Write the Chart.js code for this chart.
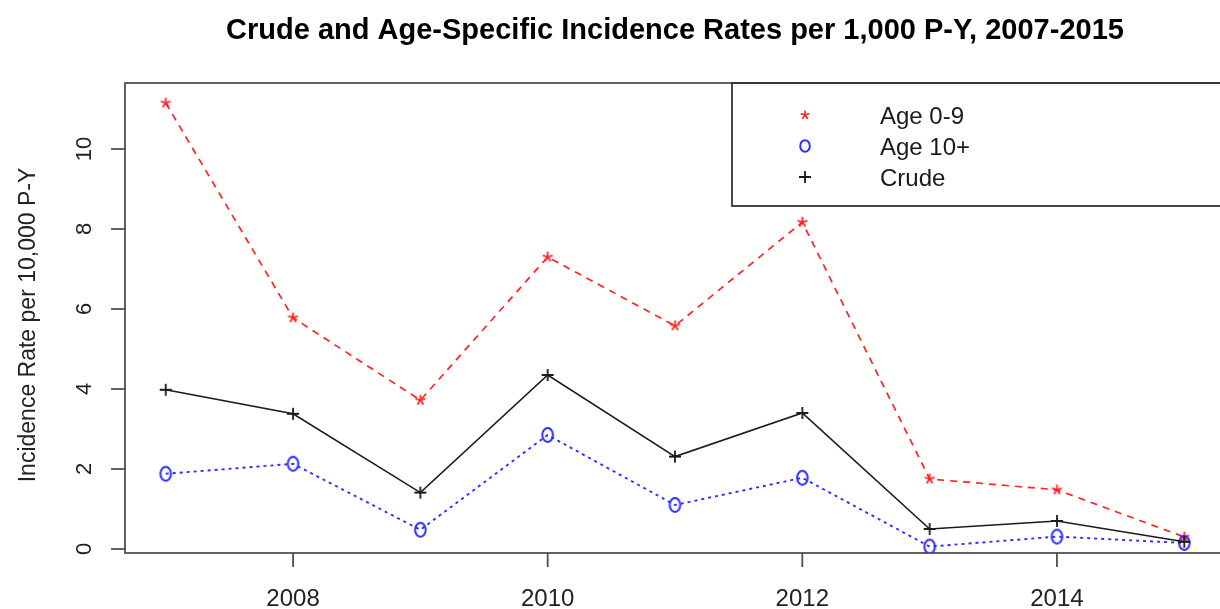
<!DOCTYPE html>
<html>
<head>
<meta charset="utf-8">
<script src="https://cdn.jsdelivr.net/npm/chart.js@4/dist/chart.umd.min.js"></script>
<style>
  html, body { margin: 0; padding: 0; background: #fff; overflow: hidden; }
  #wrap { width: 1350px; height: 609px; }
</style>
</head>
<body>
<div id="wrap"><canvas id="c" width="1350" height="609"></canvas></div>
<script>
// Incidence rates per 10,000 person-years by year
const years      = [2007, 2008, 2009, 2010, 2011, 2012, 2013, 2014, 2015];
const age0to9    = [11.15, 5.78, 3.72, 7.30, 5.58, 8.17, 1.75, 1.48, 0.30];
const age10plus  = [1.88, 2.13, 0.48, 2.85, 1.10, 1.78, 0.06, 0.31, 0.15];
const crude      = [3.98, 3.38, 1.41, 4.35, 2.31, 3.40, 0.50, 0.70, 0.18];

const xTicks = [2008, 2010, 2012, 2014];
const yTicks = [0, 2, 4, 6, 8, 10];
const seriesNames = ['Age 0-9', 'Age 10+', 'Crude'];
const titleText = 'Crude and Age-Specific Incidence Rates per 1,000 P-Y, 2007-2015';
const yTitleText = 'Incidence Rate per 10,000 P-Y';

const RED = 'rgb(255,35,35)';
const BLUE = 'rgb(45,45,255)';
const BLACK = '#1a1a1a';
const FRAME = '#505050';
const FONT = '"Liberation Sans", Arial, sans-serif';

// Marker glyphs drawn on small offscreen canvases
function starMarker(color, r, lw) {
  const s = Math.ceil(2 * r + 4), c = document.createElement('canvas');
  c.width = s; c.height = s;
  const g = c.getContext('2d');
  g.strokeStyle = color; g.lineWidth = lw; g.lineCap = 'round';
  for (let k = 0; k < 5; k++) {
    const a = -Math.PI / 2 + k * 2 * Math.PI / 5;
    g.beginPath(); g.moveTo(s / 2, s / 2);
    g.lineTo(s / 2 + r * Math.cos(a), s / 2 + r * Math.sin(a)); g.stroke();
  }
  return c;
}
function ovalMarker(color, rx, ry, lw) {
  const w = Math.ceil(2 * rx + 4), h = Math.ceil(2 * ry + 4), c = document.createElement('canvas');
  c.width = w; c.height = h;
  const g = c.getContext('2d');
  g.strokeStyle = color; g.lineWidth = lw;
  g.beginPath(); g.ellipse(w / 2, h / 2, rx, ry, 0, 0, Math.PI * 2); g.stroke();
  return c;
}
function plusMarker(color, r, lw) {
  const s = Math.ceil(2 * r + 4), c = document.createElement('canvas');
  c.width = s; c.height = s;
  const g = c.getContext('2d');
  g.strokeStyle = color; g.lineWidth = lw;
  g.beginPath();
  g.moveTo(s / 2 - r, s / 2); g.lineTo(s / 2 + r, s / 2);
  g.moveTo(s / 2, s / 2 - r); g.lineTo(s / 2, s / 2 + r);
  g.stroke();
  return c;
}

const starPt = starMarker(RED, 4.5, 1.8);
const ovalPt = ovalMarker(BLUE, 5.3, 7, 2);
const plusPt = plusMarker(BLACK, 6, 1.8);
const legendMarks = [starMarker(RED, 4, 1.6), ovalMarker(BLUE, 4.8, 5.8, 2), plusMarker(BLACK, 6, 1.8)];

const toXY = vals => years.map((yr, i) => ({ x: yr, y: vals[i] }));

// Frame, axes, titles and legend in the base-graphics style
const decor = {
  id: 'decor',
  beforeDatasetsDraw(chart) {
    const ctx = chart.ctx, a = chart.chartArea;
    const xs = chart.scales.x, ys = chart.scales.y;
    ctx.save();
    ctx.strokeStyle = FRAME; ctx.lineWidth = 1.8;
    ctx.strokeRect(a.left, a.top, a.right - a.left, a.bottom - a.top);

    // y axis ticks and rotated labels
    ctx.fillStyle = '#222';
    ctx.font = '22px ' + FONT;
    yTicks.forEach(v => {
      const py = ys.getPixelForValue(v);
      ctx.beginPath(); ctx.moveTo(a.left - 14, py); ctx.lineTo(a.left, py); ctx.stroke();
      ctx.save();
      ctx.translate(a.left - 34, py); ctx.rotate(-Math.PI / 2);
      ctx.textAlign = 'center'; ctx.textBaseline = 'alphabetic';
      ctx.fillText(String(v), 0, 0);
      ctx.restore();
    });

    // x axis ticks and labels
    ctx.font = '24px ' + FONT;
    xTicks.forEach(v => {
      const px = xs.getPixelForValue(v);
      ctx.beginPath(); ctx.moveTo(px, a.bottom); ctx.lineTo(px, a.bottom + 14); ctx.stroke();
      ctx.textAlign = 'center'; ctx.textBaseline = 'alphabetic';
      ctx.fillText(String(v), px, 606);
    });

    // y axis title
    ctx.save();
    ctx.font = '23px ' + FONT;
    ctx.translate(35, (a.top + a.bottom) / 2 + 7); ctx.rotate(-Math.PI / 2);
    ctx.textAlign = 'center'; ctx.textBaseline = 'alphabetic';
    ctx.fillText(yTitleText, 0, 0);
    ctx.restore();

    // main title
    ctx.fillStyle = '#000';
    ctx.font = 'bold 29px ' + FONT;
    ctx.textAlign = 'center'; ctx.textBaseline = 'alphabetic';
    ctx.fillText(titleText, (a.left + a.right) / 2, 39);
    ctx.restore();
  },
  afterDatasetsDraw(chart) {
    const ctx = chart.ctx, a = chart.chartArea;
    ctx.save();
    ctx.strokeStyle = '#333'; ctx.lineWidth = 1.8;
    ctx.strokeRect(732, a.top, 700, 123);
    ctx.font = '24px ' + FONT;
    ctx.fillStyle = '#1a1a1a';
    ctx.textAlign = 'left'; ctx.textBaseline = 'alphabetic';
    seriesNames.forEach((name, i) => {
      const cy = 115 + i * 31;
      const m = legendMarks[i];
      ctx.drawImage(m, 805 - m.width / 2, cy - m.height / 2);
      ctx.fillText(name, 880, cy + 9);
    });
    ctx.restore();
  }
};

new Chart(document.getElementById('c'), {
  type: 'line',
  data: {
    datasets: [
      {
        label: seriesNames[2], data: toXY(crude),
        borderColor: BLACK, borderWidth: 1.6, pointStyle: plusPt, pointRadius: 6,
        fill: false, tension: 0
      },
      {
        label: seriesNames[1], data: toXY(age10plus),
        borderColor: BLUE, borderWidth: 1.9, borderDash: [3, 4], pointStyle: ovalPt, pointRadius: 6,
        fill: false, tension: 0
      },
      {
        label: seriesNames[0], data: toXY(age0to9),
        borderColor: RED, borderWidth: 1.7, borderDash: [7, 6], pointStyle: starPt, pointRadius: 5,
        fill: false, tension: 0
      }
    ]
  },
  options: {
    responsive: false,
    animation: false,
    devicePixelRatio: 1,
    layout: { padding: { left: 125, top: 83, right: 125, bottom: 56 } },
    scales: {
      x: { type: 'linear', display: false, min: 2006.68, max: 2015.32 },
      y: { type: 'linear', display: false, min: -0.1, max: 11.65 }
    },
    plugins: { legend: { display: false }, tooltip: { enabled: false }, title: { display: false } },
    elements: { point: { hoverRadius: 6 } }
  },
  plugins: [decor]
});
</script>
</body>
</html>
